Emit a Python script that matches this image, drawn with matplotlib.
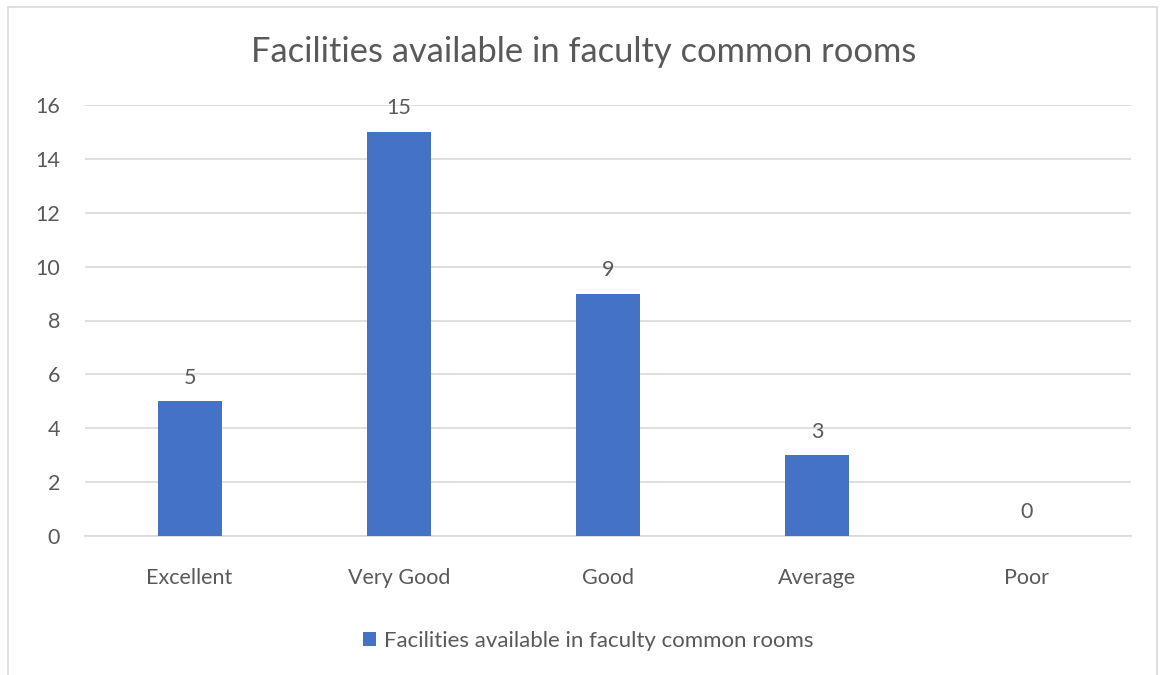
import matplotlib
matplotlib.use("Agg")
import matplotlib.pyplot as plt
from matplotlib.patches import Rectangle

categories = ["Excellent", "Very Good", "Good", "Average", "Poor"]
values = [5, 15, 9, 3, 0]
yticks = [0, 2, 4, 6, 8, 10, 12, 14, 16]
series_name = "Facilities available in faculty common rooms"
title = "Facilities available in faculty common rooms"

plt.rcParams['font.family'] = ['Lato', 'DejaVu Sans']
text_color = "#595959"
bar_color = "#4472C4"
grid_color = "#D9D9D9"

fig = plt.figure(figsize=(11.6, 6.75), dpi=100)
fig.patch.set_facecolor("white")

# outer chart border
fig.add_artist(Rectangle((8/1160, -0.01), (1157-8)/1160, 1 - 7/675 + 0.01,
                         transform=fig.transFigure, fill=False,
                         edgecolor="#D9D9D9", linewidth=1.2))

ax = fig.add_axes([85/1160, 1 - 536/675, (1131-85)/1160, (536-105)/675])
x = list(range(len(categories)))
bars = ax.bar(x, values, width=0.306, color=bar_color, label=series_name, zorder=3)
ax.set_xlim(-0.5, len(categories) - 0.5)
ax.set_ylim(0, 16)
ax.set_yticks(yticks)
ax.set_xticks(x)
ax.set_xticklabels(categories)
ax.tick_params(axis='both', length=0, colors=text_color, labelsize=15.5)
ax.tick_params(axis='y', pad=18)
ax.tick_params(axis='x', pad=23)
ax.grid(axis='y', color=grid_color, linewidth=1.2, zorder=0)
for s in ["top", "right", "left"]:
    ax.spines[s].set_visible(False)
ax.spines["bottom"].set_color(grid_color)
ax.spines["bottom"].set_linewidth(1.2)

for xi, v in zip(x, values):
    ax.annotate(str(v), (xi, v), xytext=(0, 17), textcoords="offset points",
                ha="center", va="center", fontsize=15.5, color=text_color)

fig.text(584/1160, 1 - 52/675, title, ha="center", va="center",
         fontsize=24.8, color=text_color)

leg = fig.legend(handles=[bars], labels=[series_name], loc="center",
                 bbox_to_anchor=(588/1160, 1 - 641/675), frameon=False,
                 fontsize=16, handlelength=0.6, handleheight=0.6,
                 handletextpad=0.35, labelcolor=text_color)

fig.savefig("out.png", dpi=100, facecolor="white")
